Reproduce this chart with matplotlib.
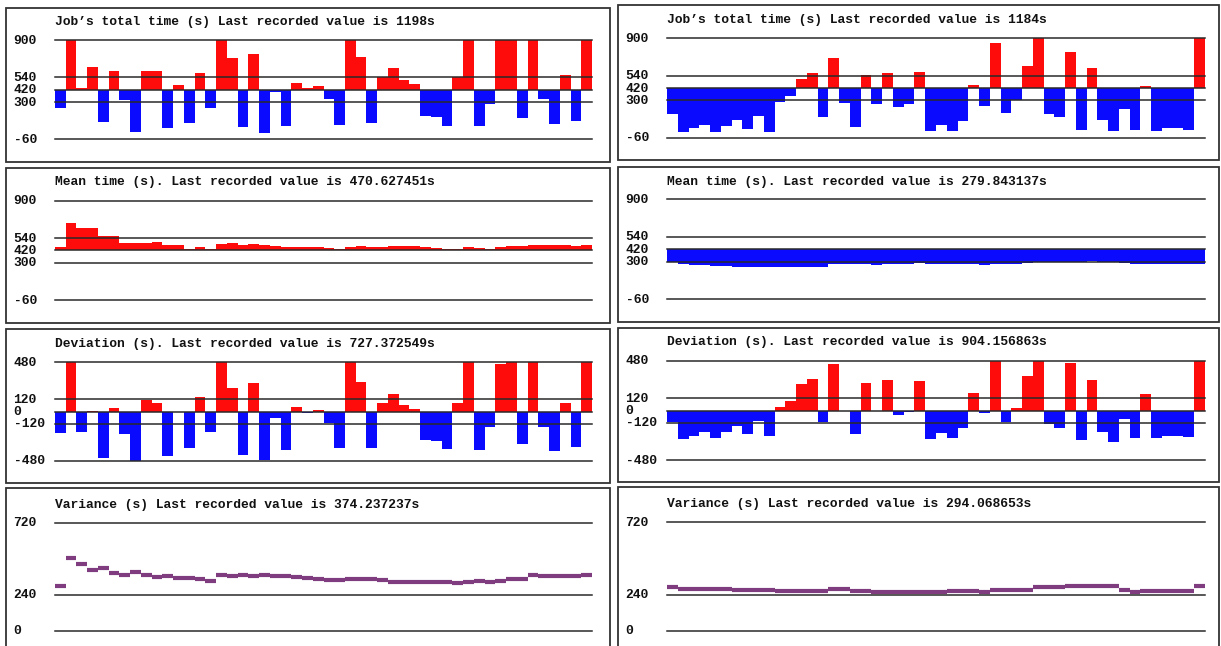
import matplotlib
matplotlib.use("Agg")
import matplotlib.pyplot as plt
from matplotlib.patches import Rectangle

# ---- data -------------------------------------------------------------
time_ticks = [900, 540, 420, 300, -60]
dev_ticks = [480, 120, 0, -120, -480]
var_ticks = [720, 240, 0]

left_total = [247, 1010, 441, 638, 111, 603, 322, 8, 603, 603,
              47, 467, 95, 583, 247, 1060, 725, 56, 764, -2,
              402, 73, 490, 435, 457, 328, 82, 980, 742, 102,
              540, 628, 515, 477, 170, 160, 73, 540, 1120, 73,
              283, 990, 1040, 144, 1075, 331, 85, 561, 121, 1198]
right_total = [169, -2, 37, 59, -2, 53, 111, 27, 150, -2,
               282, 346, 504, 565, 140, 713, 272, 43, 542, 262,
               565, 233, 262, 575, 8, 63, 8, 101, 449, 243,
               855, 175, 307, 629, 950, 169, 140, 771, 17, 610,
               111, 8, 217, 17, 439, 8, 30, 37, 17, 1184]

left_mean = [454, 685, 640, 640, 563, 563, 489, 494, 497, 500,
             470, 470, 438, 450, 438, 486, 495, 476, 486, 470,
             460, 450, 450, 450, 450, 441, 431, 450, 460, 450,
             450, 460, 460, 460, 450, 441, 431, 431, 450, 441,
             431, 450, 460, 460, 476, 476, 470, 470, 460, 470.627451]
right_mean = [295, 282, 270, 270, 263, 263, 254, 254, 247, 247,
              247, 247, 254, 254, 254, 276, 276, 276, 276, 266,
              276, 276, 282, 292, 282, 282, 276, 276, 282, 273,
              282, 282, 282, 292, 298, 298, 298, 298, 298, 306,
              298, 298, 292, 276, 282, 282, 276, 276, 276, 279.843137]

left_dev = [-211, 560, -195, 2, -454, 32, -220, -480, 110, 88,
            -428, 0, -353, 139, -195, 560, 234, -418, 279, -467,
            -62, -373, 45, -13, 13, -110, -353, 560, 289, -353,
            81, 175, 62, 23, -279, -289, -363, 88, 560, -373,
            -152, 461, 560, -311, 560, -146, -383, 88, -344, 727.372549]
right_dev = [-114, -278, -242, -207, -262, -207, -146, -230, -101, -242,
             30, 91, 255, 303, -114, 445, 0, -230, 265, 0,
             294, -43, -18, 281, -278, -214, -268, -169, 169, -24,
             560, -114, 21, 332, 560, -130, -169, 461, -287, 294,
             -207, -307, -85, -262, 162, -268, -242, -242, -252, 904.156863]

left_var = [298, 482, 442, 402, 418, 384, 371, 389, 371, 358,
            367, 351, 351, 344, 329, 371, 364, 371, 364, 371,
            367, 367, 360, 351, 344, 338, 338, 344, 344, 344,
            338, 327, 327, 322, 322, 322, 322, 316, 324, 331,
            324, 331, 344, 344, 371, 367, 367, 367, 367, 374.237237]
right_var = [290, 279, 279, 279, 279, 279, 270, 270, 270, 270,
             264, 264, 264, 264, 264, 275, 275, 266, 266, 259,
             259, 259, 259, 259, 259, 259, 266, 266, 266, 257,
             270, 270, 270, 270, 293, 293, 293, 299, 299, 299,
             299, 299, 270, 257, 266, 266, 266, 266, 266, 294.068653]

titles_left = ["Job\u2019s total time (s) Last recorded value is 1198s",
               "Mean time (s). Last recorded value is 470.627451s",
               "Deviation (s). Last recorded value is 727.372549s",
               "Variance (s) Last recorded value is 374.237237s"]
titles_right = ["Job\u2019s total time (s) Last recorded value is 1184s",
                "Mean time (s). Last recorded value is 279.843137s",
                "Deviation (s). Last recorded value is 904.156863s",
                "Variance (s) Last recorded value is 294.068653s"]

# ---- styling ----------------------------------------------------------
W, H = 1221, 646
RED = "#fe0c0c"
BLUE = "#0a0aff"
PURPLE = "#7f3d80"
LINE = "#2a2a2a"
FRAME = "#333333"
FONT = dict(family="Liberation Mono", weight="bold", size=9.36, color="#111111")

fig = plt.figure(figsize=(W / 100, H / 100), dpi=100)
fig.patch.set_facecolor("white")


def fx(px):
    return px / W


def fy(py):
    return 1 - py / H


def panel(box, title, title_y, line_x, v_top, py_top, v_bot, py_bot,
          ticks, values, base=None, kind="bar"):
    x0, y0, x1, y1 = box
    fig.add_artist(Rectangle((fx(x0), fy(y1)), fx(x1) - fx(x0), (y1 - y0) / H,
                             transform=fig.transFigure, fill=False,
                             edgecolor=FRAME, linewidth=1.3))
    fig.text(fx(line_x[0]), fy(title_y), title, ha="left", va="center", **FONT)

    ax = fig.add_axes([fx(line_x[0]), fy(py_bot),
                       fx(line_x[1]) - fx(line_x[0]), (py_bot - py_top) / H])
    ax.set_xlim(0, len(values))
    ax.set_ylim(v_bot, v_top)
    ax.axis("off")

    xs = list(range(len(values)))
    if kind == "bar":
        heights = [v - base for v in values]
        colors = [RED if v >= base else BLUE for v in values]
        ax.bar(xs, heights, bottom=base, width=1.0, align="edge",
               color=colors, linewidth=0, zorder=1)
    else:
        ax.hlines(values, xs, [x + 1 for x in xs], colors=PURPLE,
                  linewidth=3.0, capstyle="butt", zorder=2)

    for t in ticks:
        ax.axhline(t, color=LINE, linewidth=1.1, zorder=3, clip_on=False)
        py = py_top + (v_top - t) * (py_bot - py_top) / (v_top - v_bot)
        fig.text(fx(x0 + 7.5), fy(py + 0.5), str(t), ha="left", va="center", **FONT)


# left column
LX = (55, 592)
panel((6, 7.5, 610, 162), titles_left[0], 22, LX, 900, 40.3, -60, 139.3,
      time_ticks, left_total, base=420)
panel((6, 168, 610, 323), titles_left[1], 182.5, LX, 900, 200.7, -60, 300.3,
      time_ticks, left_mean, base=420)
panel((6, 329, 610, 483), titles_left[2], 343.5, LX, 480, 362.3, -480, 461,
      dev_ticks, left_dev, base=0)
panel((6, 488, 610, 660), titles_left[3], 505, LX, 720, 522.7, 0, 630.7,
      var_ticks, left_var, kind="line")

# right column
RX = (667, 1205)
panel((618, 5, 1219, 160), titles_right[0], 20.5, RX, 900, 38.3, -60, 137.7,
      time_ticks, right_total, base=420)
panel((618, 166.7, 1219, 321.7), titles_right[1], 181.7, RX, 900, 199.3, -60, 299.3,
      time_ticks, right_mean, base=420)
panel((618, 327.7, 1219, 482), titles_right[2], 342.3, RX, 480, 360.7, -480, 460.3,
      dev_ticks, right_dev, base=0)
panel((618, 487, 1219, 660), titles_right[3], 504.3, RX, 720, 522.3, 0, 630.7,
      var_ticks, right_var, kind="line")

fig.savefig("out.png", dpi=100, facecolor="white")
